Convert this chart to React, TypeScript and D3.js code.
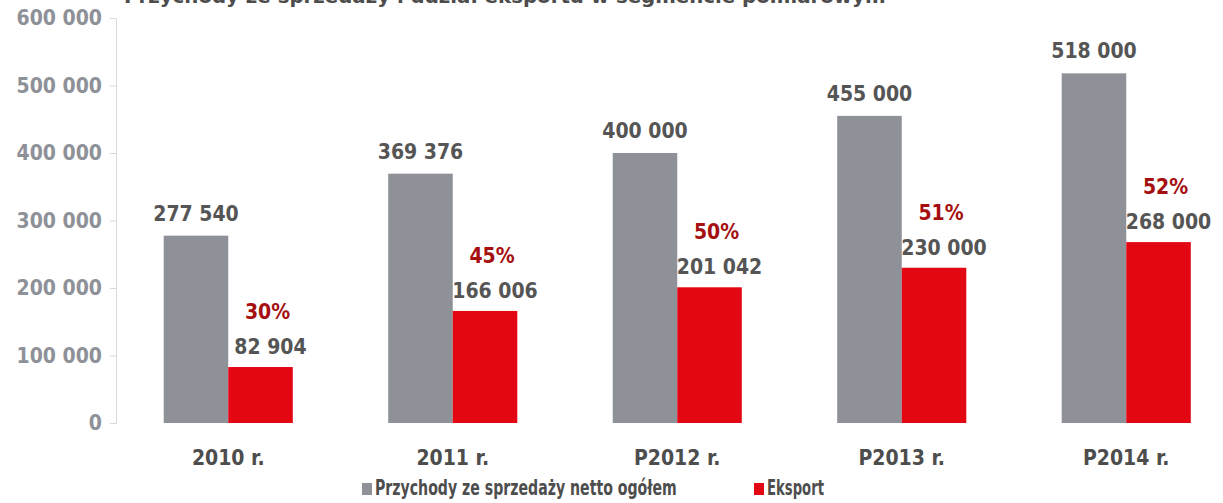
import React, { useEffect, useRef } from 'react';
import * as d3 from 'd3';

const years = ['2010 r.', '2011 r.', 'P2012 r.', 'P2013 r.', 'P2014 r.'];
const totalSales = [277540, 369376, 400000, 455000, 518000];
const exportSales = [82904, 166006, 201042, 230000, 268000];
const exportShare = ['30%', '45%', '50%', '51%', '52%'];
const yTicks = [0, 100000, 200000, 300000, 400000, 500000, 600000];
const seriesNames = ['Przychody ze sprzedaży netto ogółem', 'Eksport'];
const title = 'Przychody ze sprzedaży i udział eksportu w segmencie pomiarowym';

const FONT = "'DejaVu Sans Condensed', 'DejaVu Sans', sans-serif";
const GREY = '#8e9197';
const RED = '#e30613';

const fmt = (v: number) => d3.format(',')(v).replace(/,/g, ' ');

// squeeze a text horizontally so it spans `width` px from `x` (narrow font in the original)
const squeeze = (node: SVGTextElement, x: number, width: number) => {
  const natural = node.getComputedTextLength();
  const k = natural > 0 ? width / natural : 1;
  d3.select(node).attr('x', 0).attr('transform', `translate(${x},0) scale(${k},1)`);
};

export default function App() {
  const ref = useRef<SVGSVGElement | null>(null);

  useEffect(() => {
    const svg = d3.select(ref.current);
    svg.selectAll('*').remove();

    const x0 = d3.scaleBand().domain(years).range([116, 1238.5]).paddingInner(0.425).paddingOuter(0.2125);
    const x1 = d3.scaleBand().domain(['total', 'export']).range([0, x0.bandwidth()]);
    const y = d3.scaleLinear().domain([0, 600000]).range([423, 18]);

    const text = (sel: any) =>
      sel
        .attr('font-family', FONT)
        .attr('font-weight', 'bold')
        .attr('font-stretch', 'condensed')
        .attr('font-size', 21);

    // title (cut off at top of the picture)
    const titleText = svg
      .append('text')
      .call(text)
      .attr('y', 3)
      .attr('fill', '#4d4d4d')
      .attr('font-size', 20)
      .text(title);
    squeeze(titleText.node() as SVGTextElement, 124, 762);

    // y axis
    const yAxis = svg
      .append('g')
      .attr('transform', 'translate(116,0)')
      .call(d3.axisLeft(y).tickValues(yTicks).tickSize(6).tickPadding(8).tickFormat(d => fmt(+d)));
    yAxis.select('.domain').attr('stroke', '#d9d9d9');
    yAxis.selectAll('.tick line').attr('stroke', '#d9d9d9');
    yAxis.selectAll('.tick text').call(text).attr('fill', GREY);

    const groups = svg
      .selectAll('g.year')
      .data(years)
      .enter()
      .append('g')
      .attr('class', 'year')
      .attr('transform', d => `translate(${x0(d)},0)`);

    groups
      .append('rect')
      .attr('x', x1('total')!)
      .attr('y', (d, i) => y(totalSales[i]))
      .attr('width', x1.bandwidth())
      .attr('height', (d, i) => y(0) - y(totalSales[i]))
      .attr('fill', GREY);

    groups
      .append('rect')
      .attr('x', x1('export')!)
      .attr('y', (d, i) => y(exportSales[i]))
      .attr('width', x1.bandwidth())
      .attr('height', (d, i) => y(0) - y(exportSales[i]))
      .attr('fill', RED);

    groups
      .append('text')
      .call(text)
      .attr('text-anchor', 'middle')
      .attr('x', x1('total')! + x1.bandwidth() / 2)
      .attr('y', (d, i) => y(totalSales[i]) - 15)
      .attr('fill', '#555555')
      .text((d, i) => fmt(totalSales[i]));

    groups
      .append('text')
      .call(text)
      .attr('text-anchor', 'middle')
      .attr('x', x1('export')! + x1.bandwidth() / 2 + 10)
      .attr('y', (d, i) => y(exportSales[i]) - 13)
      .attr('fill', '#555555')
      .text((d, i) => fmt(exportSales[i]));

    groups
      .append('text')
      .call(text)
      .attr('text-anchor', 'middle')
      .attr('x', x1('export')! + x1.bandwidth() / 2 + 7)
      .attr('y', (d, i) => y(exportSales[i]) - 48)
      .attr('fill', '#a50f10')
      .text((d, i) => exportShare[i]);

    groups
      .append('text')
      .call(text)
      .attr('text-anchor', 'middle')
      .attr('x', x0.bandwidth() / 2)
      .attr('y', 465)
      .attr('fill', '#4d4d4d')
      .text(d => d);

    // legend
    const legendX = [362, 754];
    const legendLen = [302, 57];
    const legend = svg
      .selectAll('g.legend')
      .data(seriesNames)
      .enter()
      .append('g')
      .attr('class', 'legend')
      .attr('transform', (d, i) => `translate(${legendX[i]},483)`);
    legend
      .append('rect')
      .attr('width', 10)
      .attr('height', 12)
      .attr('fill', (d, i) => (i === 0 ? GREY : RED));
    legend
      .append('text')
      .call(text)
      .attr('y', 12)
      .attr('fill', '#4d4d4d')
      .text(d => d)
      .each(function (d, i) {
        squeeze(this as SVGTextElement, 13, legendLen[i]);
      });
  }, []);

  return (
    <svg
      ref={ref}
      width={1223}
      height={503}
      style={{ position: 'absolute', left: 0, top: 0, background: '#ffffff' }}
    />
  );
}
